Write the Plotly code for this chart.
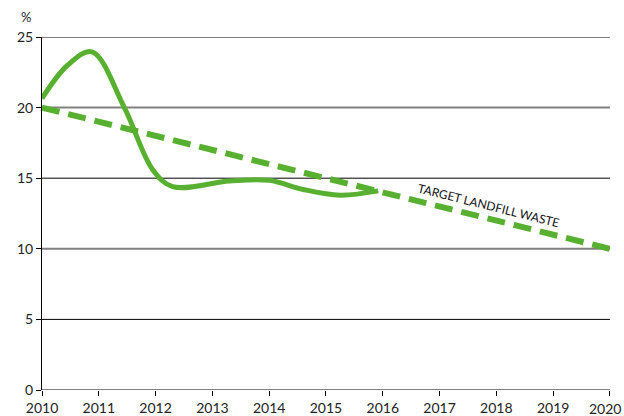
import plotly.graph_objects as go

actual_x = [2010, 2010.45, 2010.88, 2011.45, 2011.95, 2012.3, 2013.3, 2014.0, 2014.6, 2015.25, 2015.92]
actual_y = [20.65, 23.0, 23.95, 20.0, 15.6, 14.4, 14.8, 14.85, 14.2, 13.8, 14.1]

# Target line
target_x = [2010, 2020]
target_y = [20, 10]

x_ticks = list(range(2010, 2021))
x_labels = [str(t) for t in x_ticks]
y_ticks = [0, 5, 10, 15, 20, 25]
grid_colors = ["#808080", "#000000", "#808080", "#000000", "#808080", "#000000"]
grid_widths = [2, 1, 2, 1, 2, 1]

green = "#58b030"
font_family = "Lato, 'DejaVu Sans', sans-serif"

fig = go.Figure()
fig.add_trace(go.Scatter(
    x=target_x, y=target_y, mode="lines",
    line=dict(color=green, width=6, dash="18px,9px"),
    hoverinfo="skip", showlegend=False,
))
fig.add_trace(go.Scatter(
    x=actual_x, y=actual_y, mode="lines",
    line=dict(color=green, width=5, shape="spline", smoothing=1.0),
    hoverinfo="skip", showlegend=False,
))

shapes = []
for v, c, w in zip(y_ticks, grid_colors, grid_widths):
    shapes.append(dict(type="line", xref="paper", yref="y", x0=0, x1=1, y0=v, y1=v,
                       line=dict(color=c, width=w), layer="below"))

# last tick label drawn as annotation so it stays inside the window
tick_text = x_labels[:-1] + [""]

fig.update_layout(
    width=624, height=416,
    margin=dict(l=42, r=14, t=37, b=26, autoexpand=False),
    paper_bgcolor="white", plot_bgcolor="white",
    font=dict(family=font_family, size=14, color="#222222"),
    shapes=shapes,
    xaxis=dict(range=[2010, 2020.001], tickvals=x_ticks, ticktext=tick_text,
               showgrid=False, zeroline=False, showline=False, automargin=False,
               ticklabeloverflow="allow",
               ticks="outside", ticklen=5, tickcolor="#000000", tickwidth=1),
    yaxis=dict(range=[0, 25], tickvals=y_ticks, showgrid=False, zeroline=False,
               showline=True, linecolor="#000000", linewidth=1, automargin=False,
               ticks="outside", ticklen=5, tickcolor="#000000", tickwidth=1),
    annotations=[
        dict(text="%", xref="paper", yref="paper", x=-0.028, y=1.057,
             showarrow=False, xanchor="center", yanchor="middle",
             font=dict(size=13, color="#222222")),
        dict(text="TARGET LANDFILL WASTE", xref="x", yref="y", x=2017.87, y=13.1,
             showarrow=False, textangle=14, xanchor="center", yanchor="middle",
             font=dict(size=12, color="#111111")),
        dict(text=x_labels[-1], xref="x", yref="paper", x=x_ticks[-1], y=0,
             xanchor="right", yanchor="top", xshift=13, yshift=-8,
             showarrow=False, font=dict(size=14, color="#222222")),
    ],
)

fig.write_html("out.html", config={"displayModeBar": False},
               post_script="document.body.style.margin='0';document.body.style.overflow='hidden';")
